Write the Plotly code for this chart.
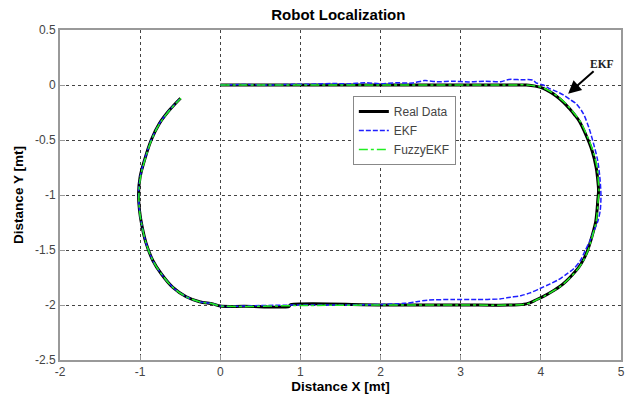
import plotly.graph_objects as go

# ---------------- data ----------------
real_x = [0.0, 1.0, 2.0, 3.0, 3.6, 3.82, 3.93, 4.03, 4.12, 4.19, 4.28, 4.35, 4.42, 4.48,
          4.56, 4.64, 4.69, 4.715, 4.72, 4.71, 4.70, 4.685, 4.655, 4.62, 4.58, 4.53,
          4.47, 4.40, 4.32, 4.24, 4.155, 4.05, 3.95, 3.82, 3.6, 3.0, 2.0, 0.87, 0.86,
          0.3, 0.0, -0.093, -0.259, -0.425, -0.592, -0.737, -0.842, -0.925, -0.975,
          -1.008, -1.02, -1.0, -0.946, -0.862, -0.759, -0.634, -0.496]
real_y = [0.0, 0.0, 0.0, 0.0, 0.0, 0.0, -0.01, -0.03, -0.065, -0.10, -0.155, -0.21, -0.27,
          -0.33, -0.45, -0.60, -0.75, -0.90, -0.96, -1.05, -1.145, -1.24, -1.33, -1.42,
          -1.51, -1.59, -1.66, -1.72, -1.78, -1.83, -1.87, -1.915, -1.95, -1.99, -2.0,
          -2.0, -2.0, -2.0, -2.012, -2.012, -2.01, -1.99, -1.97, -1.925, -1.84, -1.716,
          -1.595, -1.44, -1.29, -1.14, -0.99, -0.835, -0.684, -0.5, -0.349, -0.228, -0.12]

ekf_x = [0.0, 0.3, 0.6, 0.9, 1.2, 1.4, 1.6, 1.8, 2.0, 2.2, 2.4, 2.55, 2.7, 2.9, 3.1,
         3.3, 3.5, 3.6, 3.75, 3.9, 3.94, 4.03, 4.1, 4.2, 4.28, 4.36, 4.44, 4.53, 4.6,
         4.66, 4.71, 4.74, 4.75, 4.74, 4.71, 4.66, 4.61, 4.55, 4.49, 4.41, 4.32, 4.22,
         4.11, 3.99, 3.865, 3.75, 3.615, 3.49, 3.2, 2.9, 2.6, 2.45, 2.3, 2.0, 1.5, 1.0,
         0.5, 0.0, -0.093, -0.259, -0.425, -0.592, -0.737, -0.842, -0.925, -0.975,
         -1.008, -1.02, -1.0, -0.946, -0.862, -0.759, -0.634, -0.496]
ekf_y = [0.0, 0.004, 0.0, 0.006, 0.008, 0.014, 0.01, 0.02, 0.012, 0.02, 0.018, 0.04,
         0.03, 0.034, 0.028, 0.035, 0.03, 0.05, 0.048, 0.045, 0.02, 0.0, -0.03, -0.06,
         -0.09, -0.13, -0.17, -0.26, -0.39, -0.54, -0.69, -0.87, -1.02, -1.145, -1.24,
         -1.33, -1.42, -1.51, -1.60, -1.67, -1.72, -1.77, -1.81, -1.85, -1.89, -1.915,
         -1.93, -1.945, -1.95, -1.95, -1.955, -1.97, -1.985, -1.995, -2.0, -2.0,
         -2.005, -2.01, -1.99, -1.97, -1.925, -1.84, -1.716, -1.595, -1.44, -1.29,
         -1.14, -0.99, -0.835, -0.684, -0.5, -0.349, -0.228, -0.12]

fuzzy_x = [0.0, 1.0, 2.0, 3.0, 3.6, 3.83, 3.94, 4.04, 4.13, 4.2, 4.29, 4.36, 4.43, 4.49,
           4.57, 4.65, 4.70, 4.72, 4.725, 4.715, 4.705, 4.69, 4.66, 4.625, 4.585, 4.535,
           4.475, 4.405, 4.325, 4.245, 4.16, 4.055, 3.955, 3.825, 3.6, 3.0, 2.0, 1.0,
           0.0, -0.093, -0.259, -0.425, -0.592, -0.737, -0.842, -0.925, -0.975, -1.008,
           -1.015, -0.995, -0.942, -0.858, -0.755, -0.63, -0.492]
fuzzy_y = [0.0, 0.0, 0.0, 0.0, 0.0, 0.0, -0.01, -0.03, -0.065, -0.10, -0.155, -0.21, -0.27,
           -0.33, -0.45, -0.60, -0.75, -0.90, -0.96, -1.05, -1.145, -1.24, -1.33, -1.42,
           -1.51, -1.59, -1.66, -1.72, -1.78, -1.83, -1.87, -1.915, -1.95, -1.99, -2.0,
           -2.0, -2.0, -2.005, -2.008, -1.99, -1.97, -1.925, -1.84, -1.716, -1.595,
           -1.44, -1.29, -1.14, -0.99, -0.835, -0.684, -0.5, -0.349, -0.228, -0.12]

x_ticks = [-2, -1, 0, 1, 2, 3, 4, 5]
x_tick_labels = ["-2", "-1", "0", "1", "2", "3", "4", "5"]
y_ticks = [-2.5, -2, -1.5, -1, -0.5, 0, 0.5]
y_tick_labels = ["-2.5", "-2", "-1.5", "-1", "-0.5", "0", "0.5"]

# ---------------- figure ----------------
FONT = "Liberation Sans, Arial, sans-serif"
fig = go.Figure()
fig.add_trace(go.Scatter(x=real_x, y=real_y, mode="lines", name="Real Data",
                         line=dict(color="black", width=3, shape="spline", smoothing=1)))
fig.add_trace(go.Scatter(x=ekf_x, y=ekf_y, mode="lines", name="EKF",
                         line=dict(color="#1f1fff", width=1.5, dash="5px,2px",
                                   shape="spline", smoothing=0.8)))
fig.add_trace(go.Scatter(x=fuzzy_x, y=fuzzy_y, mode="lines", name="FuzzyEKF",
                         line=dict(color="#22ee22", width=1.5, dash="dashdot",
                                   shape="spline", smoothing=1)))

axis_common = dict(showline=True, mirror=True, linecolor="#999999", linewidth=2,
                   showgrid=True, gridcolor="#444444", griddash="dot", gridwidth=1,
                   ticks="inside", ticklen=5, tickcolor="#999999", zeroline=False,
                   tickfont=dict(family=FONT, size=12, color="#444444"))

fig.update_xaxes(range=[-2, 5], tickvals=x_ticks, ticktext=x_tick_labels,
                 title=dict(text="<b>Distance X [mt]</b>", standoff=2,
                            font=dict(family=FONT, size=13.5, color="black")),
                 **axis_common)
fig.update_yaxes(range=[-2.5, 0.5], tickvals=y_ticks, ticktext=y_tick_labels,
                 title=dict(text="<b>Distance Y [mt]</b>", standoff=8,
                            font=dict(family=FONT, size=13.5, color="black")),
                 **axis_common)

fig.add_annotation(x=4.34, y=-0.08, xref="x", yref="y", text="<b>EKF</b>",
                   showarrow=True, arrowhead=2, arrowsize=1.3, arrowwidth=2,
                   arrowcolor="black", ax=34, ay=-30,
                   font=dict(family="Liberation Serif, Times New Roman, serif",
                             size=11.5, color="#222222"))

fig.update_layout(
    width=636, height=399,
    margin=dict(l=60, r=15, t=30, b=39, autoexpand=False),
    paper_bgcolor="white", plot_bgcolor="white",
    title=dict(text="<b>Robot Localization</b>", x=0.532, xanchor="center",
               y=0.962, yanchor="middle", yref="container",
               font=dict(family=FONT, size=15, color="black")),
    legend=dict(x=0.522, y=0.80, xanchor="left", yanchor="top",
                bgcolor="white", bordercolor="#888888", borderwidth=1,
                font=dict(family=FONT, size=12, color="#444444"),
                tracegroupgap=0, itemwidth=30),
    showlegend=True,
)

fig.write_html("out.html", config={"displayModeBar": False},
               post_script="document.body.style.margin='0';")
